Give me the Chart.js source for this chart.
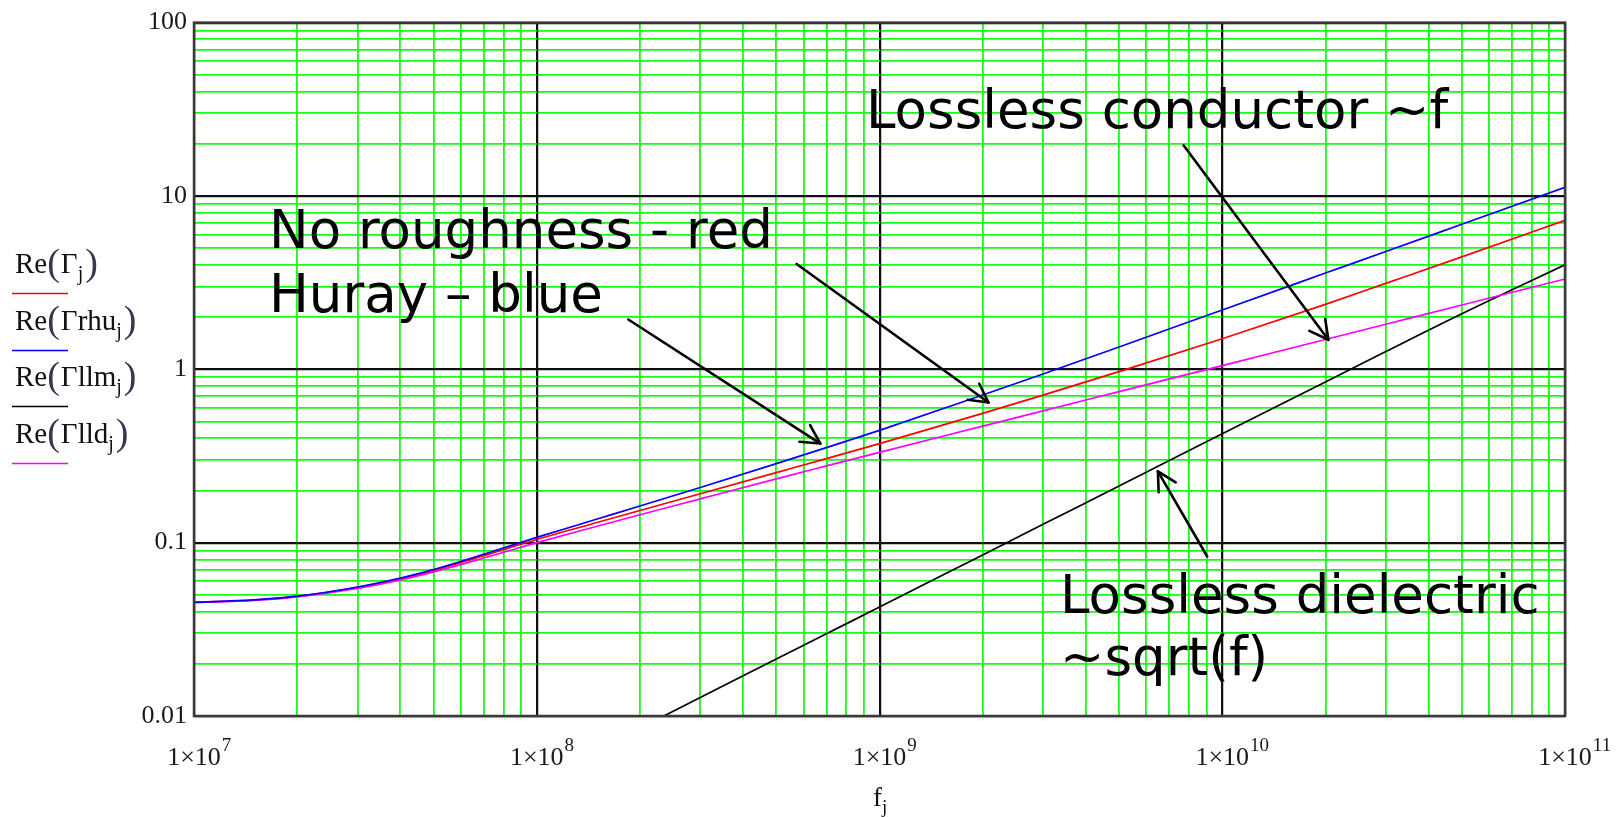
<!DOCTYPE html>
<html><head><meta charset="utf-8">
<script src="https://cdn.jsdelivr.net/npm/chart.js@4/dist/chart.umd.min.js"></script>
<style>html,body{margin:0;padding:0;background:#fff;overflow:hidden}</style>
</head><body>
<canvas id="c" width="1618" height="818"></canvas>
<script>
// ---- data ----
const freqs     = [1e7, 1.5e7, 2e7, 3e7, 4e7, 5e7, 7e7, 1e8, 1.5e8, 2e8, 3e8, 5e8, 7e8, 1e9, 2e9, 3e9, 5e9, 1e10, 2e10, 3e10, 5e10, 1e11];
const gamma     = [0.0452, 0.0467, 0.0490, 0.0551, 0.0619, 0.0692, 0.0841, 0.1042, 0.1307, 0.1532, 0.1914, 0.2535, 0.3051, 0.3725, 0.557, 0.710, 0.970, 1.50, 2.37, 3.13, 4.45, 7.24];
const gammaRhu  = [0.0453, 0.0468, 0.0491, 0.0555, 0.0625, 0.0700, 0.0857, 0.1072, 0.1368, 0.1626, 0.2082, 0.2858, 0.3532, 0.444, 0.711, 0.940, 1.345, 2.20, 3.59, 4.78, 6.86, 11.2];
const gammaLlm  = [null, null, null, null, null, null, null, null, null, 0.0085, 0.0128, 0.0213, 0.0298, 0.0425, 0.085, 0.1275, 0.212, 0.425, 0.845, 1.265, 2.09, 4.01];
const gammaLld  = [0.0451, 0.0464, 0.0486, 0.0544, 0.0609, 0.0678, 0.0815, 0.1000, 0.1244, 0.1449, 0.1789, 0.2334, 0.2771, 0.332, 0.470, 0.576, 0.743, 1.051, 1.486, 1.82, 2.35, 3.32];
const seriesNames = ['Γ', 'Γrhu', 'Γllm', 'Γlld'];
const seriesColors = ['#ff0000', '#0000ff', '#000000', '#ff00ff'];
const seriesOrder = [2, 0, 3, 1];
const xDecades  = [1e7, 1e8, 1e9, 1e10, 1e11];
const xExponents = ['7', '8', '9', '10', '11'];
const yDecades  = [0.01, 0.1, 1, 10, 100];
const yTickLabels = ['0.01', '0.1', '1', '10', '100'];

// annotations (text in pixels, arrows in data space)
const notes = [
  {text: 'Lossless conductor ~f', x: 866, y: 128},
  {text: 'No roughness - red', x: 269, y: 248},
  {text: 'Huray – blue', x: 269, y: 312},
  {text: 'Lossless dielectric', x: 1060, y: 613},
  {text: '~sqrt(f)', x: 1060, y: 675}
];
const arrows = [
  {from: [7.71e9, 19.6], to: [2.04e10, 1.48]},
  {from: [5.73e8, 4.05], to: [2.08e9, 0.643]},
  {from: [1.85e8, 1.937], to: [6.72e8, 0.373]},
  {from: [9.04e9, 0.0832], to: [6.49e9, 0.258]}
];

const isDecade = v => Math.abs(Math.log10(v) - Math.round(Math.log10(v))) < 1e-9;
function logTicks(decades, max) {
  const t = [];
  decades.forEach(d => { for (let k = 1; k <= 9; k++) { const v = d * k; if (v <= max * 1.0000001) t.push({value: v}); } });
  return t;
}
const GREEN = '#14ff14';

function drawParts(ctx, x, base, parts) {
  for (const p of parts) {
    ctx.font = p.size + 'px "Liberation Serif"';
    ctx.fillStyle = p.color || '#111';
    ctx.fillText(p.t, x, base + (p.dy || 0));
    x += ctx.measureText(p.t).width + (p.gap || 0);
  }
}

const deco = {
  id: 'deco',
  beforeDatasetsDraw(chart) {
    const {ctx, chartArea: a, scales: {x, y}} = chart;
    ctx.save();
    ctx.strokeStyle = '#111'; ctx.lineWidth = 1.5;
    xDecades.forEach(v => { const p = Math.round(x.getPixelForValue(v)) + 0.5; ctx.beginPath(); ctx.moveTo(p, a.top); ctx.lineTo(p, a.bottom); ctx.stroke(); });
    yDecades.forEach(v => { const p = Math.round(y.getPixelForValue(v)) + 0.5; ctx.beginPath(); ctx.moveTo(a.left, p); ctx.lineTo(a.right, p); ctx.stroke(); });
    ctx.restore();
  },
  afterDatasetsDraw(chart) {
    const {ctx, chartArea: a, scales: {x, y}} = chart;
    ctx.save();
    // frame
    ctx.strokeStyle = '#3a3a3a'; ctx.lineWidth = 2.5;
    ctx.strokeRect(a.left, a.top, a.right - a.left, a.bottom - a.top);
    // annotation text
    ctx.fillStyle = '#000';
    ctx.font = '53px "DejaVu Sans"';
    ctx.textBaseline = 'alphabetic';
    notes.forEach(n => ctx.fillText(n.text, n.x, n.y));
    // arrows
    ctx.strokeStyle = '#000'; ctx.lineWidth = 2.6; ctx.lineCap = 'round'; ctx.lineJoin = 'round';
    arrows.forEach(ar => {
      const x0 = x.getPixelForValue(ar.from[0]), y0 = y.getPixelForValue(ar.from[1]);
      const x1 = x.getPixelForValue(ar.to[0]), y1 = y.getPixelForValue(ar.to[1]);
      const ang = Math.atan2(y1 - y0, x1 - x0), L = 21, h = 28 * Math.PI / 180;
      ctx.beginPath(); ctx.moveTo(x0, y0); ctx.lineTo(x1, y1); ctx.stroke();
      ctx.beginPath();
      ctx.moveTo(x1 - L * Math.cos(ang - h), y1 - L * Math.sin(ang - h));
      ctx.lineTo(x1, y1);
      ctx.lineTo(x1 - L * Math.cos(ang + h), y1 - L * Math.sin(ang + h));
      ctx.stroke();
    });
    ctx.restore();
  },
  afterDraw(chart) {
    const {ctx, scales: {x}} = chart;
    ctx.save();
    ctx.textBaseline = 'alphabetic';
    // x tick labels 1×10^n
    xDecades.forEach((v, i) => {
      const px = x.getPixelForValue(v);
      ctx.font = '26px "Liberation Serif"';
      ctx.fillStyle = '#1a1a1a';
      const base = '1×10';
      const w = ctx.measureText(base).width;
      ctx.fillText(base, px - w / 2, 765);
      ctx.font = '19px "Liberation Serif"';
      ctx.fillText(xExponents[i], px + w / 2 + 1, 751);
    });
    // x axis title f_j
    drawParts(ctx, 873, 806, [{t: 'f', size: 27}, {t: 'j', size: 19, dy: 7}]);
    // legend
    seriesNames.forEach((nm, i) => {
      const base = 273 + i * 56.7;
      drawParts(ctx, 15, base, [
        {t: 'Re', size: 29},
        {t: '(', size: 38, dy: 2, color: '#3a3550', gap: 1},
        {t: nm, size: 29},
        {t: 'j', size: 20, dy: 7, gap: 2},
        {t: ')', size: 38, dy: 2, color: '#3a3550'}
      ]);
      ctx.strokeStyle = seriesColors[i]; ctx.lineWidth = 1.6;
      const ly = Math.round(base + 20) + 0.5;
      ctx.beginPath(); ctx.moveTo(12, ly); ctx.lineTo(68, ly); ctx.stroke();
    });
    ctx.restore();
  }
};

const seriesData = [gamma, gammaRhu, gammaLlm, gammaLld];
const datasets = seriesData.map((vals, i) => ({
  label: 'Re(' + seriesNames[i] + ')',
  data: freqs.map((f, k) => ({x: f, y: vals[k]})).filter(p => p.y !== null),
  borderColor: seriesColors[i],
  backgroundColor: seriesColors[i],
  borderWidth: 1.7,
  pointRadius: 0,
  fill: false,
  order: seriesOrder[i],
  cubicInterpolationMode: 'monotone'
}));

new Chart(document.getElementById('c'), {
  type: 'line',
  data: {datasets},
  options: {
    responsive: false,
    animation: false,
    devicePixelRatio: 1,
    layout: {padding: {left: 0, top: 18, right: 53, bottom: 0}},
    plugins: {legend: {display: false}, tooltip: {enabled: false}},
    scales: {
      x: {
        type: 'logarithmic', min: 1e7, max: 1e11,
        afterBuildTicks: s => { s.ticks = logTicks(xDecades, 1e11); },
        afterFit: s => { s.height = 102; },
        ticks: {display: false},
        grid: {drawTicks: false, color: c => (c.tick && isDecade(c.tick.value)) ? '#111' : GREEN, lineWidth: 1.8},
        border: {display: false}
      },
      y: {
        type: 'logarithmic', min: 0.01, max: 100,
        afterBuildTicks: s => { s.ticks = logTicks(yDecades, 100); },
        afterFit: s => { s.width = 194; },
        ticks: {
          autoSkip: false, padding: 7, color: '#1a1a1a',
          font: {family: '"Liberation Serif"', size: 26},
          callback: v => { const i = yDecades.indexOf(v); return i >= 0 ? yTickLabels[i] : ''; }
        },
        grid: {drawTicks: false, color: c => (c.tick && isDecade(c.tick.value)) ? '#111' : GREEN, lineWidth: 1.8},
        border: {display: false}
      }
    }
  },
  plugins: [deco]
});
</script>
</body></html>
